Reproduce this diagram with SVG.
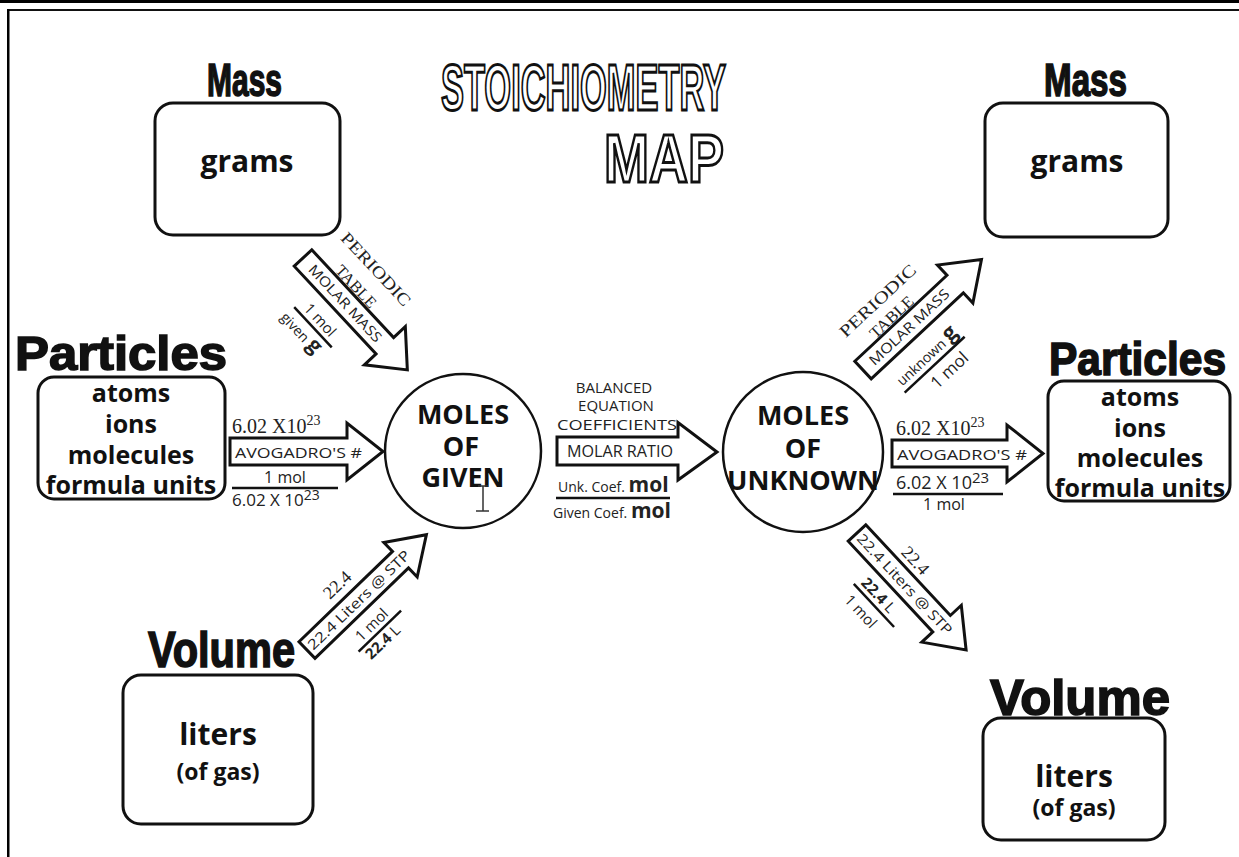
<svg xmlns="http://www.w3.org/2000/svg" width="1239" height="857" viewBox="0 0 1239 857">
<style>
.box{fill:#fff;stroke:#111;stroke-width:3}
.circ{fill:#fff;stroke:#111;stroke-width:2.5}
.arr{fill:#fff;stroke:#111;stroke-width:3;stroke-linejoin:miter}
.rule{stroke:#111;stroke-width:2.5}
.big{font-family:"Liberation Sans",Arial,sans-serif;font-weight:bold;fill:#111;stroke:#111;stroke-width:1.6}
.lbl{font-family:"Open Sans","Noto Sans",sans-serif;font-weight:bold;fill:#111;text-anchor:middle}
.sm{font-family:"Open Sans","Noto Sans",sans-serif;fill:#222}
.sr{font-family:"Liberation Serif","Times New Roman",serif;fill:#222}
.ttl{font-family:"Liberation Sans",Arial,sans-serif;font-weight:bold;fill:#fff;stroke:#111;stroke-width:3}
.mid{text-anchor:middle}
</style>
<rect width="1239" height="857" fill="#fff"/>
<!-- frame -->
<rect x="0" y="0" width="1239" height="3" fill="#000"/>
<rect x="7" y="9" width="1232" height="2" fill="#111"/>
<rect x="7" y="9" width="2.5" height="848" fill="#000"/>

<!-- title -->
<g id="title">
<text class="ttl" x="441" y="110" font-size="65" textLength="285" lengthAdjust="spacingAndGlyphs">STOICHIOMETRY</text>
<text class="ttl" x="604" y="182" font-size="68" textLength="120" lengthAdjust="spacingAndGlyphs">MAP</text>
</g>

<!-- left mass -->
<g id="mass-given">
<text class="big" x="207" y="96" font-size="47" textLength="75" lengthAdjust="spacingAndGlyphs">Mass</text>
<rect class="box" x="155" y="103" width="185" height="132" rx="18"/>
<text class="lbl" x="247" y="172" font-size="30">grams</text>
</g>
<!-- right mass -->
<g id="mass-unknown">
<text class="big" x="1044" y="96" font-size="47" textLength="83" lengthAdjust="spacingAndGlyphs">Mass</text>
<rect class="box" x="985" y="103" width="183" height="134" rx="18"/>
<text class="lbl" x="1077" y="172" font-size="30">grams</text>
</g>
<!-- left particles -->
<g id="particles-given">
<text class="big" x="15" y="370" font-size="49" textLength="212" lengthAdjust="spacingAndGlyphs">Particles</text>
<rect class="box" x="38" y="377" width="187" height="122" rx="16"/>
<text class="lbl" x="131" y="402" font-size="25">atoms</text>
<text class="lbl" x="131" y="433" font-size="25">ions</text>
<text class="lbl" x="131" y="464" font-size="25">molecules</text>
<text class="lbl" x="131" y="494" font-size="25">formula units</text>
</g>
<!-- right particles -->
<g id="particles-unknown">
<text class="big" x="1049" y="375" font-size="47" textLength="177" lengthAdjust="spacingAndGlyphs">Particles</text>
<rect class="box" x="1048" y="381" width="182" height="120" rx="16"/>
<text class="lbl" x="1140" y="406" font-size="25">atoms</text>
<text class="lbl" x="1140" y="437" font-size="25">ions</text>
<text class="lbl" x="1140" y="467" font-size="25">molecules</text>
<text class="lbl" x="1140" y="497" font-size="25">formula units</text>
</g>
<!-- left volume -->
<g id="volume-given">
<text class="big" x="148" y="667" font-size="50" textLength="147" lengthAdjust="spacingAndGlyphs">Volume</text>
<rect class="box" x="123" y="675" width="190" height="149" rx="18"/>
<text class="lbl" x="218" y="745" font-size="30">liters</text>
<text class="lbl" x="218" y="780" font-size="23">(of gas)</text>
</g>
<!-- right volume -->
<g id="volume-unknown">
<text class="big" x="990" y="715" font-size="50" textLength="180" lengthAdjust="spacingAndGlyphs">Volume</text>
<rect class="box" x="983" y="718" width="182" height="122" rx="18"/>
<text class="lbl" x="1074" y="787" font-size="30">liters</text>
<text class="lbl" x="1074" y="816" font-size="23">(of gas)</text>
</g>

<!-- circles -->
<g id="moles-given">
<ellipse class="circ" cx="463" cy="451" rx="78" ry="77"/>
<text class="lbl" x="463" y="424" font-size="27">MOLES</text>
<text class="lbl" x="461" y="456" font-size="27">OF</text>
<text class="lbl" x="463" y="487" font-size="27">GIVEN</text>
<path d="M478,486 H488 M483,486 V511 M476,511 H489" stroke="#333" stroke-width="1.5" fill="none"/>
</g>
<g id="moles-unknown">
<circle class="circ" cx="803" cy="452" r="80"/>
<text class="lbl" x="803" y="425" font-size="27">MOLES</text>
<text class="lbl" x="803" y="458" font-size="27">OF</text>
<text class="lbl" x="803" y="490" font-size="27">UNKNOWN</text>
</g>

<g id="connectors">
<!-- mass given -> moles given -->
<g transform="translate(303,258) rotate(47)">
<path class="arr" d="M0,-12 L120,-12 L120,-28 L153,0 L120,28 L120,12 L0,12 Z"/>
<text class="sr mid" x="58" y="-40" font-size="17" textLength="94" lengthAdjust="spacingAndGlyphs">PERIODIC</text>
<text class="sr mid" x="57" y="-14" font-size="16" textLength="52" lengthAdjust="spacingAndGlyphs">TABLE</text>
<text class="sm mid" x="62" y="5" font-size="14" textLength="100" lengthAdjust="spacingAndGlyphs">MOLAR MASS</text>
<text class="sm mid" x="57" y="35" font-size="15">1 mol</text>
<line class="rule" x1="30" y1="40" x2="85" y2="40"/>
<text class="sm mid" x="53" y="58" font-size="14">given <tspan font-weight="bold" font-size="21">g</tspan></text>
</g>
<!-- particles given -> moles given -->
<g transform="translate(230,451.5)">
<path class="arr" d="M0,-13.5 L117,-13.5 L117,-28.5 L153,0 L117,28.5 L117,13.5 L0,13.5 Z"/>
<text class="sm" x="5" y="6" font-size="15" textLength="127" lengthAdjust="spacingAndGlyphs">AVOGADRO'S #</text>
</g>
<text class="sr" x="232" y="433" font-size="20">6.02 X10<tspan dy="-8" font-size="14">23</tspan></text>
<text class="sm mid" x="285" y="483" font-size="16">1 mol</text>
<line class="rule" x1="232" y1="488" x2="338" y2="488"/>
<text class="sm" x="232" y="506" font-size="17">6.02 X 10<tspan dy="-6" font-size="14">23</tspan></text>
<!-- volume given -> moles given -->
<g transform="translate(307,650) rotate(-44)">
<path class="arr" d="M0,-11.5 L130,-11.5 L130,-24 L166,0 L130,24 L130,11.5 L0,11.5 Z"/>
<text class="sr mid" x="67" y="-20" font-size="18">22.4</text>
<text class="sm mid" x="72" y="5" font-size="14" textLength="136" lengthAdjust="spacingAndGlyphs">22.4 Liters @ STP</text>
<text class="sm mid" x="64" y="32" font-size="15">1 mol</text>
<line class="rule" x1="36" y1="37" x2="95" y2="37"/>
<text class="sm mid" x="60" y="52" font-size="15"><tspan font-weight="bold">22.4</tspan> L</text>
</g>
<!-- moles given -> moles unknown -->
<text class="sm mid" x="614" y="393" font-size="15">BALANCED</text>
<text class="sm mid" x="616" y="411" font-size="15">EQUATION</text>
<text class="sm mid" x="617" y="430" font-size="15" textLength="120" lengthAdjust="spacingAndGlyphs">COEFFICIENTS</text>
<g transform="translate(557,451)">
<path class="arr" d="M0,-14 L121,-14 L121,-28.5 L160,1 L121,29 L121,14 L0,14 Z"/>
<text class="sm" x="10" y="6" font-size="16" textLength="106" lengthAdjust="spacingAndGlyphs">MOLAR RATIO</text>
</g>
<text class="sm" x="558" y="492" font-size="14">Unk. Coef. <tspan font-weight="bold" font-size="21">mol</tspan></text>
<line class="rule" x1="556" y1="498" x2="670" y2="498"/>
<text class="sm" x="553" y="518" font-size="14">Given Coef. <tspan font-weight="bold" font-size="21">mol</tspan></text>
<!-- moles unknown -> particles unknown -->
<g transform="translate(892,453.5)">
<path class="arr" d="M0,-13.5 L115,-13.5 L115,-28.5 L151,0 L115,28.5 L115,13.5 L0,13.5 Z"/>
<text class="sm" x="5" y="6" font-size="15" textLength="130" lengthAdjust="spacingAndGlyphs">AVOGADRO'S #</text>
</g>
<text class="sr" x="896" y="435" font-size="20">6.02 X10<tspan dy="-8" font-size="14">23</tspan></text>
<text class="sm" x="896" y="489" font-size="18">6.02 X 10<tspan dy="-6" font-size="15">23</tspan></text>
<line class="rule" x1="893" y1="494" x2="1003" y2="494"/>
<text class="sm mid" x="944" y="510" font-size="16">1 mol</text>
<!-- moles unknown -> mass unknown -->
<g transform="translate(863,370) rotate(-43)">
<path class="arr" d="M0,-12 L126,-12 L126,-26 L162,0 L126,26 L126,12 L0,12 Z"/>
<text class="sr mid" x="58" y="-35" font-size="17" textLength="98" lengthAdjust="spacingAndGlyphs">PERIODIC</text>
<text class="sr mid" x="57" y="-14" font-size="16" textLength="54" lengthAdjust="spacingAndGlyphs">TABLE</text>
<text class="sm mid" x="63" y="5" font-size="14" textLength="104" lengthAdjust="spacingAndGlyphs">MOLAR MASS</text>
<text class="sm mid" x="56" y="39" font-size="14">unknown <tspan font-weight="bold" font-size="22">g</tspan></text>
<line class="rule" x1="15" y1="45" x2="97" y2="45"/>
<text class="sm mid" x="63" y="65" font-size="17">1 mol</text>
</g>
<!-- moles unknown -> volume unknown -->
<g transform="translate(857,533) rotate(47)">
<path class="arr" d="M0,-12 L124,-12 L124,-27 L160,0 L124,27 L124,12 L0,12 Z"/>
<text class="sr mid" x="60" y="-18" font-size="18">22.4</text>
<text class="sm mid" x="70" y="5" font-size="14" textLength="132" lengthAdjust="spacingAndGlyphs">22.4 Liters @ STP</text>
<text class="sm mid" x="60" y="32" font-size="15"><tspan font-weight="bold">22.4</tspan> L</text>
<line class="rule" x1="35" y1="37" x2="94" y2="37"/>
<text class="sm mid" x="60" y="56" font-size="15">1 mol</text>
</g>
</g>
</svg>
